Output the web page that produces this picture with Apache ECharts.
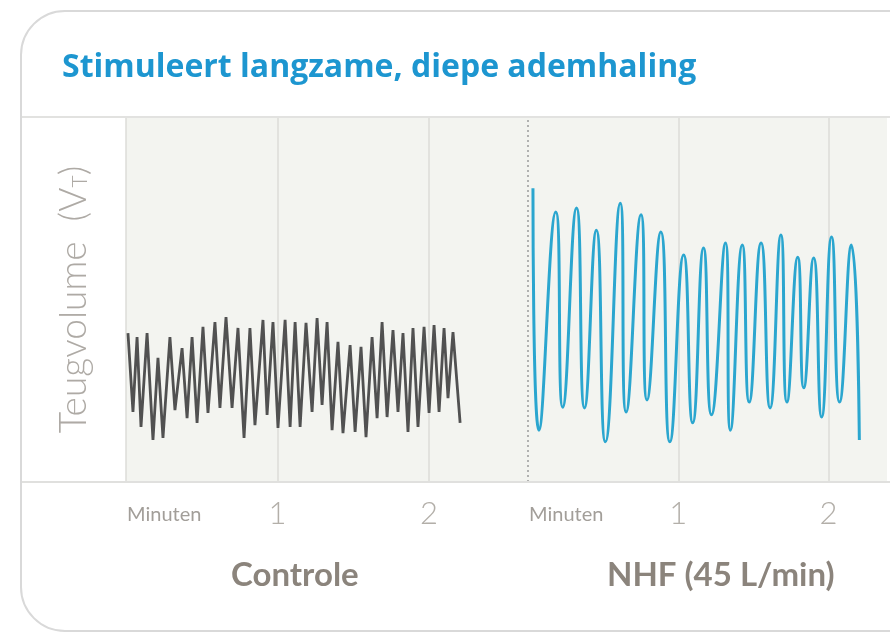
<!DOCTYPE html>
<html>
<head>
<meta charset="utf-8">
<script src="https://cdn.jsdelivr.net/npm/echarts@6/dist/echarts.min.js"></script>
<style>
html,body{margin:0;padding:0;background:#fff;}
#chart{width:890px;height:633px;}
</style>
</head>
<body>
<div id="chart"></div>
<script>
// ---- data (time in minutes, tidal volume in arbitrary units) ----
const titleText = 'Stimuleert langzame, diepe ademhaling';
const yAxisTitle = 'Teugvolume  (V{sub|T})';
const panelNames = ['Controle', 'NHF (45 L/min)'];
const tickLabelZero = 'Minuten';

const controlTime = [0.013,0.046,0.073,0.099,0.139,0.178,0.211,0.244,0.290,0.323,0.370,0.403,0.436,0.469,0.508,0.541,0.587,0.620,0.660,0.700,0.739,0.779,0.818,0.851,0.904,0.931,0.970,1.003,1.050,1.083,1.116,1.149,1.188,1.228,1.261,1.294,1.327,1.360,1.399,1.432,1.479,1.512,1.551,1.584,1.624,1.657,1.690,1.723,1.762,1.795,1.828,1.861,1.894,1.927,1.967,2.000,2.033,2.066,2.099,2.125,2.158,2.205];
const controlVolume = [40.8,19.2,39.7,15.1,40.8,11.5,34.0,12.1,39.7,19.7,36.7,17.5,39.7,16.2,42.5,18.9,43.8,20.3,45.2,20.3,42.2,12.1,42.2,15.6,44.4,18.4,43.8,14.8,44.4,15.1,43.8,15.1,43.6,19.2,44.9,21.1,43.8,14.2,38.4,13.4,37.5,13.7,37.0,12.3,39.7,17.5,43.8,17.8,41.6,19.2,40.8,13.7,42.2,15.1,42.5,18.9,43.0,19.2,42.2,23.0,41.1,16.2];

const nhfTime = [0.033,0.073,0.185,0.231,0.323,0.376,0.455,0.515,0.614,0.653,0.752,0.792,0.884,0.944,1.036,1.096,1.168,1.221,1.314,1.347,1.426,1.472,1.551,1.611,1.683,1.723,1.795,1.835,1.901,1.954,2.020,2.073,2.152,2.205];
const nhfVolume = [80.5,14.2,74.0,20.5,75.1,20.3,69.0,11.0,76.4,19.2,73.2,22.5,68.5,11.0,62.2,16.2,64.1,18.4,65.5,14.2,64.9,21.9,65.5,20.3,67.7,21.9,61.6,25.8,61.4,17.8,67.1,21.9,64.9,11.5];

const leftMax = 2.653;
const rightMax = 2.389;

const controlData = controlTime.map((t, i) => [t, controlVolume[i]]);
const nhfData = nhfTime.map((t, i) => [t, nhfVolume[i]]);

const chart = echarts.init(document.getElementById('chart'), null, {renderer: 'canvas'});

const axisLabelCommon = {
  show: true,
  margin: 16,
  alignMinLabel: 'left',
  formatter: function (v) {
    if (Math.abs(v) < 1e-9) return '{m|' + tickLabelZero + '}';
    if (Math.abs(v - Math.round(v)) < 1e-9) return '{n|' + v + '}';
    return '';
  },
  rich: {
    m: {fontFamily: 'Lato', fontSize: 20, color: '#a29e99', padding: [7, 0, 0, 1]},
    n: {fontFamily: 'Lato', fontSize: 31, fontWeight: 300, color: '#b3afa9'}
  }
};

const splitCommon = {
  show: true,
  lineStyle: {color: '#dcdcd8', width: 1.5}
};

chart.setOption({
  backgroundColor: '#ffffff',
  animation: false,
  graphic: [
    {type: 'rect', z: -10, shape: {x: 21, y: 11, width: 920, height: 620, r: 44},
     style: {fill: '#ffffff', stroke: '#d9d9d9', lineWidth: 2}},
    {type: 'line', z: 10, shape: {x1: 22, y1: 117, x2: 890, y2: 117},
     style: {stroke: '#e2e2e0', lineWidth: 2}},
    {type: 'line', z: 10, shape: {x1: 22, y1: 482, x2: 890, y2: 482},
     style: {stroke: '#e0e0de', lineWidth: 2}}
  ],
  title: [
    {text: titleText, left: 62, top: 52, padding: 0,
     textStyle: {fontFamily: 'Open Sans', fontSize: 32, fontWeight: 'bold', color: '#1d96d0'}},
    {text: panelNames[0], left: 231, top: 559, padding: 0,
     textStyle: {fontFamily: 'Lato', fontSize: 33, fontWeight: 'bold', color: '#8b847c'}},
    {text: panelNames[1], left: 607, top: 559, padding: 0,
     textStyle: {fontFamily: 'Lato', fontSize: 33, fontWeight: 'bold', color: '#8b847c'}}
  ],
  grid: [
    {left: 126, top: 117, width: 402, height: 365, show: true, backgroundColor: '#f3f4f0', borderWidth: 0, containLabel: false},
    {left: 528, top: 117, width: 362, height: 365, show: true, backgroundColor: '#f3f4f0', borderWidth: 0, containLabel: false}
  ],
  xAxis: [
    {type: 'value', gridIndex: 0, min: 0, max: leftMax, interval: 1,
     axisLine: {show: false}, axisTick: {show: false},
     axisLabel: axisLabelCommon,
     splitLine: Object.assign({showMinLine: true, showMaxLine: false}, splitCommon)},
    {type: 'value', gridIndex: 1, min: 0, max: rightMax, interval: 1,
     axisLine: {show: false}, axisTick: {show: false},
     axisLabel: axisLabelCommon,
     splitLine: Object.assign({showMinLine: false, showMaxLine: false}, splitCommon)}
  ],
  yAxis: [
    {type: 'value', gridIndex: 0, min: 0, max: 100,
     axisLine: {show: false}, axisTick: {show: false}, axisLabel: {show: false}, splitLine: {show: false},
     name: yAxisTitle, nameLocation: 'middle', nameRotate: 90, nameGap: 33,
     nameTextStyle: {fontFamily: 'Lato', fontSize: 37, fontWeight: 300, color: '#aeaaa5',
       rich: {sub: {fontFamily: 'Lato', fontSize: 21, fontWeight: 300, color: '#aeaaa5', padding: [12, 0, 0, 0]}}}},
    {type: 'value', gridIndex: 1, min: 0, max: 100,
     axisLine: {show: false}, axisTick: {show: false}, axisLabel: {show: false}, splitLine: {show: false}}
  ],
  series: [
    {type: 'line', xAxisIndex: 0, yAxisIndex: 0, data: controlData, showSymbol: false, smooth: false,
     lineStyle: {color: '#515151', width: 2.8}, z: 5},
    {type: 'line', xAxisIndex: 1, yAxisIndex: 1, data: nhfData, showSymbol: false, smooth: 0.55,
     lineStyle: {color: '#2ba6cf', width: 3}, z: 5,
     markLine: {silent: true, symbol: 'none', label: {show: false},
       lineStyle: {color: '#9a9a9a', type: [2, 3], width: 1.5},
       data: [{xAxis: 0}]}}
  ]
});
</script>
</body>
</html>
